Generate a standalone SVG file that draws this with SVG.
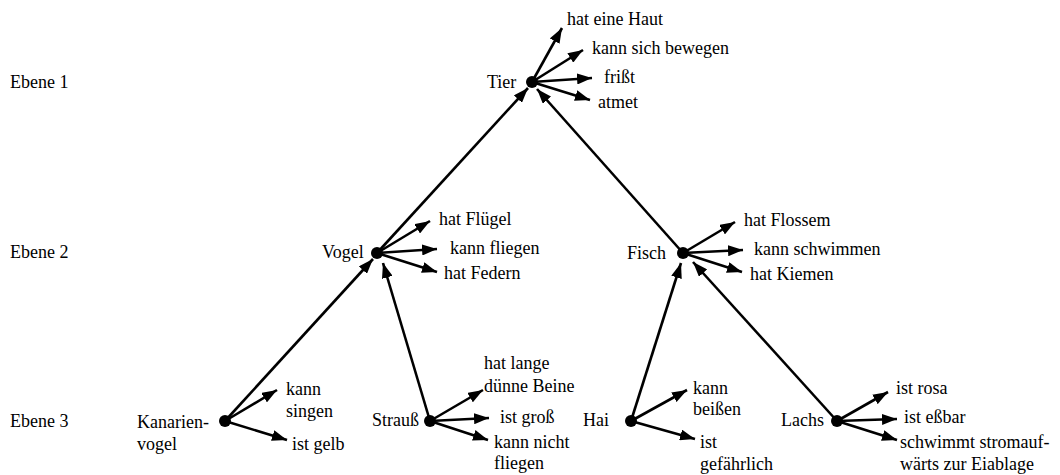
<svg xmlns="http://www.w3.org/2000/svg" width="1060" height="475" viewBox="0 0 1060 475" font-family="'Liberation Serif', 'Times New Roman', Times, 'DejaVu Serif', serif">
<style>
text{font-family:'Liberation Serif','Times New Roman',Times,'DejaVu Serif',serif;font-size:18px;fill:#000}
.c line{stroke:#000;stroke-width:2.6;marker-end:url(#ah)}
.dot{fill:#000}
</style>
<defs>
<marker id="ah" markerUnits="userSpaceOnUse" markerWidth="16" markerHeight="11" refX="15" refY="5.5" orient="auto">
<path d="M0,0 L15,5.5 L0,11 z" fill="#000"/>
</marker>
</defs>
<rect width="1060" height="475" fill="#fff"/>
<g id="levels">
<text x="10" y="88">Ebene 1</text>
<text x="10" y="258">Ebene 2</text>
<text x="10" y="427">Ebene 3</text>
</g>
<g class="c" id="connectors">
<line x1="377" y1="253" x2="528" y2="88"/>
<line x1="683" y1="253" x2="537" y2="89"/>
<line x1="225" y1="421" x2="373" y2="259"/>
<line x1="430" y1="421" x2="383" y2="263"/>
<line x1="631" y1="421" x2="681" y2="263"/>
<line x1="837" y1="421" x2="693" y2="262"/>
<line x1="532" y1="82" x2="562" y2="28"/>
<line x1="532" y1="82" x2="583" y2="50"/>
<line x1="532" y1="82" x2="592" y2="78"/>
<line x1="532" y1="82" x2="590" y2="100"/>
<line x1="377" y1="253" x2="430" y2="221"/>
<line x1="377" y1="253" x2="437" y2="249"/>
<line x1="377" y1="253" x2="437" y2="272"/>
<line x1="683" y1="253" x2="735" y2="222"/>
<line x1="683" y1="253" x2="743" y2="250"/>
<line x1="683" y1="253" x2="742" y2="272"/>
<line x1="225" y1="421" x2="277" y2="390"/>
<line x1="225" y1="421" x2="287" y2="440"/>
<line x1="430" y1="421" x2="483" y2="390"/>
<line x1="430" y1="421" x2="489" y2="418"/>
<line x1="430" y1="421" x2="488" y2="440"/>
<line x1="631" y1="421" x2="687" y2="390"/>
<line x1="631" y1="421" x2="695" y2="439"/>
<line x1="837" y1="421" x2="888" y2="392"/>
<line x1="837" y1="421" x2="897" y2="419"/>
<line x1="837" y1="421" x2="897" y2="440"/>
</g>
<g id="tier">
<circle class="dot" cx="532" cy="82" r="6"/>
<text x="487" y="88">Tier</text>
<text x="567" y="25">hat eine Haut</text>
<text x="592" y="54">kann sich bewegen</text>
<text x="604" y="83">frißt</text>
<text x="598" y="108">atmet</text>
</g>
<g id="vogel">
<circle class="dot" cx="377" cy="253" r="6"/>
<text x="322" y="258">Vogel</text>
<text x="439" y="225">hat Flügel</text>
<text x="450" y="254">kann fliegen</text>
<text x="444" y="279">hat Federn</text>
</g>
<g id="fisch">
<circle class="dot" cx="683" cy="253" r="6"/>
<text x="627" y="259">Fisch</text>
<text x="744" y="226">hat Flossem</text>
<text x="754" y="255">kann schwimmen</text>
<text x="750" y="280">hat Kiemen</text>
</g>
<g id="kanarienvogel">
<circle class="dot" cx="225" cy="421" r="6"/>
<text x="137" y="428">Kanarien-</text>
<text x="137" y="450">vogel</text>
<text x="286" y="395">kann</text>
<text x="286" y="417">singen</text>
<text x="292" y="450">ist gelb</text>
</g>
<g id="strauss">
<circle class="dot" cx="430" cy="421" r="6"/>
<text x="372" y="426">Strauß</text>
<text x="484" y="369">hat lange</text>
<text x="484" y="392">dünne Beine</text>
<text x="500" y="423">ist groß</text>
<text x="494" y="448">kann nicht</text>
<text x="494" y="469">fliegen</text>
</g>
<g id="hai">
<circle class="dot" cx="631" cy="421" r="6"/>
<text x="583" y="426">Hai</text>
<text x="693" y="394">kann</text>
<text x="693" y="415">beißen</text>
<text x="700" y="448">ist</text>
<text x="700" y="470">gefährlich</text>
</g>
<g id="lachs">
<circle class="dot" cx="837" cy="421" r="6"/>
<text x="781" y="426">Lachs</text>
<text x="896" y="394">ist rosa</text>
<text x="904" y="423">ist eßbar</text>
<text x="900" y="448">schwimmt stromauf-</text>
<text x="900" y="470">wärts zur Eiablage</text>
</g>
</svg>
